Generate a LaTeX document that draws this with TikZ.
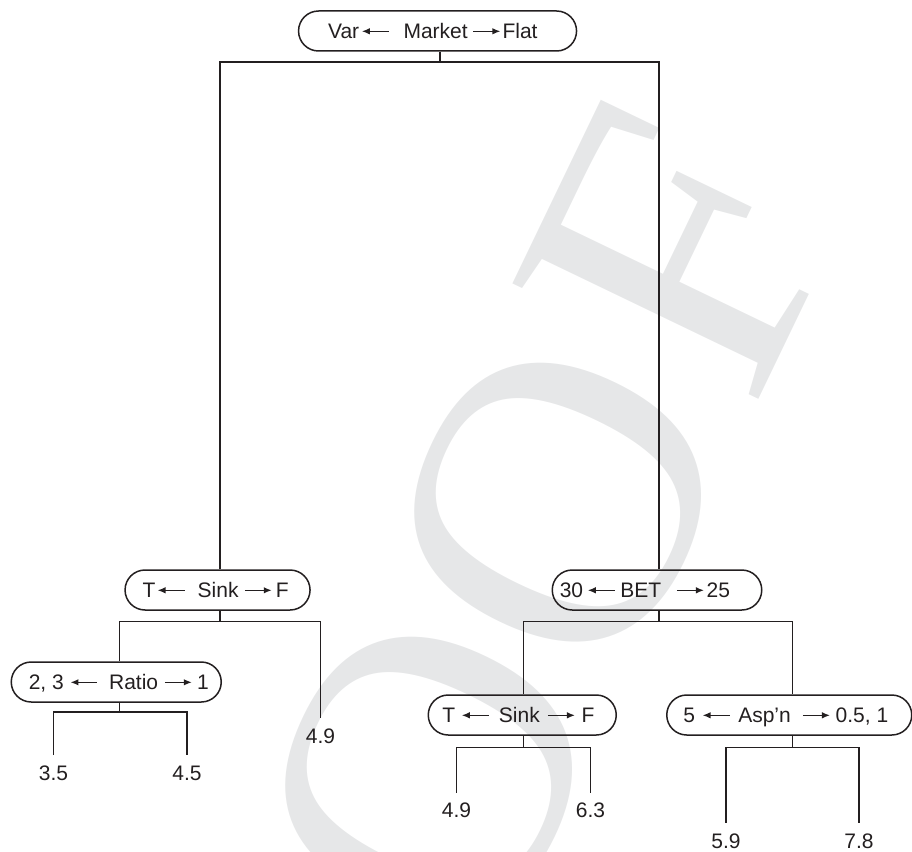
\documentclass[tikz,border=0pt]{standalone}
\usepackage{fontspec}
\setmainfont{Liberation Sans}
\newfontfamily\markfont{Liberation Serif}
\usetikzlibrary{arrows.meta}

\definecolor{ink}{HTML}{231F20}
\definecolor{wmgray}{HTML}{E6E7E8}

% small left / right pointing arrows used inside the split labels
\newcommand\larrow{\tikz[baseline=-7.2pt]\draw[ink,line width=1.35pt,{Latex[length=8pt,width=6.5pt]}-] (0pt,0pt) -- (27pt,0pt);}
\newcommand\rarrow{\tikz[baseline=-7.2pt]\draw[ink,line width=1.35pt,-{Latex[length=8pt,width=6.5pt]}] (0pt,0pt) -- (27pt,0pt);}

% #1 left pad, #2 left value, #3 #4 gaps round the left arrow,
% #5 attribute, #6 #7 gaps round the right arrow, #8 right value
\newcommand\splitlabel[8]{\hspace*{#1}#2\hspace*{#3}\larrow\hspace*{#4}#5\hspace*{#6}\rarrow\hspace*{#7}#8}

\tikzset{
  testnode/.style={draw=ink, line width=1.5pt, rounded corners=20pt,
    minimum height=40pt, inner xsep=0pt, inner ysep=0pt,
    text height=15pt, text depth=0pt, anchor=west, text=ink,
    font=\fontsize{21}{25}\selectfont},
  link/.style={draw=ink, line width=1.8pt},
  leaflabel/.style={anchor=north, inner sep=0pt, text=ink,
    font=\fontsize{21}{25}\selectfont},
  stamp/.style={anchor=base west, inner sep=0pt, rotate=64.3, text=wmgray,
    font=\markfont\fontsize{415}{415}\selectfont},
}

\begin{document}
\begin{tikzpicture}[x=1pt,y=1pt]
\useasboundingbox (0,0) rectangle (912,-851);

% watermark letters, set one by one along a slanted baseline
\begin{scope}
  \clip (0,0) rectangle (912,-851);
  \node[stamp] (stampO1) at (486.3,-970.6) {O};
  \node[stamp] (stampO2) at (615.5,-696.4) {O};
  \node[stamp] (stampF)  at (752.1,-412.6) {F};
\end{scope}

% split nodes
\node[testnode] (market) at (297.8,-31)
  {\makebox[278pt][l]{\splitlabel{29.5pt}{Var}{2pt}{14pt}{Market}{5pt}{1.5pt}{Flat}}};
\node[testnode] (sinkA) at (124.3,-590)
  {\makebox[185pt][l]{\splitlabel{17.5pt}{T}{1.5pt}{12.5pt}{Sink}{5.5pt}{3.5pt}{F}}};
\node[testnode] (bet) at (551.5,-590)
  {\makebox[209.5pt][l]{\splitlabel{7.5pt}{30}{4pt}{5pt}{BET}{15pt}{2pt}{25}}};
\node[testnode] (ratio) at (10.5,-682)
  {\makebox[210pt][l]{\splitlabel{17.5pt}{2, 3}{6pt}{11pt}{Ratio}{6pt}{4.5pt}{1}}};
\node[testnode] (sinkB) at (427.5,-715)
  {\makebox[188pt][l]{\splitlabel{14pt}{T}{6pt}{9.5pt}{Sink}{7.5pt}{6pt}{F}}};
\node[testnode] (asp) at (666,-715)
  {\makebox[245pt][l]{\splitlabel{16.5pt}{5}{7pt}{8pt}{Asp’n}{11.5pt}{5pt}{0.5, 1}}};

% leaf values
\node[leaflabel] (v49a) at (320.5,-729) {4.9};
\node[leaflabel] (v35)  at (53.5,-766)  {3.5};
\node[leaflabel] (v45)  at (187,-766)   {4.5};
\node[leaflabel] (v49b) at (456.5,-803) {4.9};
\node[leaflabel] (v63)  at (590.5,-803) {6.3};
\node[leaflabel] (v59)  at (726,-833.5) {5.9};
\node[leaflabel] (v78)  at (859,-833.5) {7.8};

% junction points of the branch bars
\coordinate (jTop) at (440,-62);
\coordinate (jA)   at (220,-621.5);
\coordinate (jB)   at (659,-621.5);
\coordinate (jR)   at (119.5,-712);
\coordinate (jS)   at (523.5,-747.5);
\coordinate (jP)   at (792.5,-747.5);

% root split
\draw[link] (market.south -| jTop) -- (jTop);
\draw[link] (sinkA.north -| jA) -- (jA |- jTop) -- (jB |- jTop) -- (bet.north -| jB);

% left Sink split
\draw[link] (sinkA.south -| jA) -- (jA);
\draw[link] (ratio.north -| jR) -- (jR |- jA) -- (v49a.north |- jA) -- ([yshift=11pt]v49a.north);

% Ratio split
\draw[link] (ratio.south -| jR) -- (jR);
\draw[link] ([yshift=11pt]v35.north) -- (v35.north |- jR) -- (v45.north |- jR) -- ([yshift=11pt]v45.north);

% BET split
\draw[link] (bet.south -| jB) -- (jB);
\draw[link] (sinkB.north -| jS) -- (jS |- jB) -- (jP |- jB) -- (asp.north -| jP);

% lower Sink split
\draw[link] (sinkB.south -| jS) -- (jS);
\draw[link] ([yshift=10.5pt]v49b.north) -- (v49b.north |- jS) -- (v63.north |- jS) -- ([yshift=10.5pt]v63.north);

% Asp'n split
\draw[link] (asp.south -| jP) -- (jP);
\draw[link] ([yshift=11pt]v59.north) -- (v59.north |- jP) -- (v78.north |- jP) -- ([yshift=11pt]v78.north);
\end{tikzpicture}
\end{document}
